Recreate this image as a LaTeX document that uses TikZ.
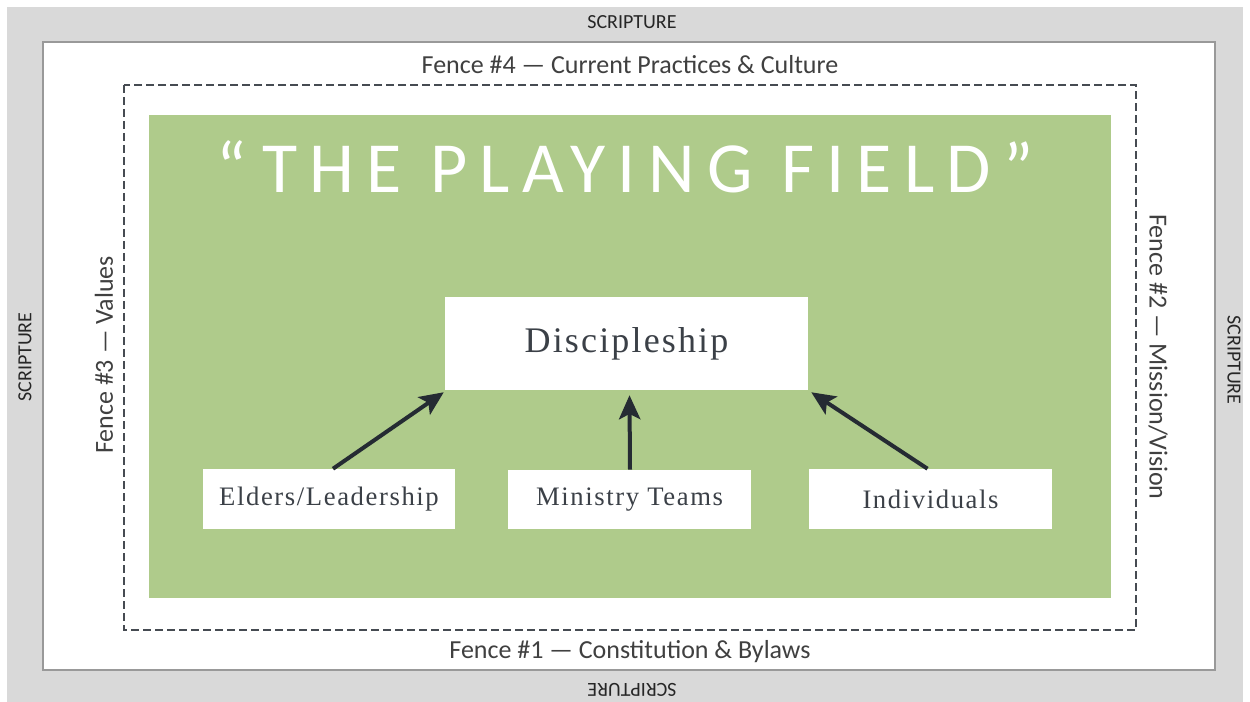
\documentclass[tikz,border=0pt]{standalone}
\usepackage{fontspec}
\setmainfont{Carlito}
\newfontfamily\titlefont[LetterSpace=17]{Carlito}
\newfontfamily\boxfont[LetterSpace=6]{Liberation Serif}
\usetikzlibrary{arrows.meta}
\definecolor{bggray}{HTML}{D9D9D9}
\definecolor{field}{HTML}{AFCB8B}
\definecolor{txt}{HTML}{404040}
\definecolor{arr}{HTML}{252B33}
\tikzset{
  lbl/.style={text=txt, inner sep=0pt, font=\fontsize{19.5}{22}\selectfont},
  scr/.style={text=black!85, inner sep=0pt, font=\fontsize{15}{17}\selectfont},
  wbox/.style={fill=white, draw=none, inner sep=0pt},
  wtext/.style={text=arr!90, font=\boxfont\fontsize{20}{22}\selectfont},
  flow/.style={draw=arr, line width=3pt, -{Stealth[length=18pt,width=16pt,inset=4pt]}}
}
\begin{document}
\begin{tikzpicture}[x=0.75pt,y=-0.75pt]
\useasboundingbox (0,0) rectangle (1250,702);
\fill[white] (0,0) rectangle (1250,702);
\fill[bggray] (7,7) rectangle (1243,702);
\draw[fill=white, draw=gray!80, line width=0.8pt] (43,42) rectangle (1215,670);
\draw[draw=arr!85, line width=2.2pt, dash pattern=on 6pt off 3pt] (124,85) rectangle (1136,630);
\fill[field] (149,115) rectangle (1111,598);

\node[scr] (sT) at (632,22) {SCRIPTURE};
\node[scr, rotate=180] (sB) at (632,690) {SCRIPTURE};
\node[scr, rotate=90] (sL) at (25,357) {SCRIPTURE};
\node[scr, rotate=-90] (sR) at (1234,360) {SCRIPTURE};

\node[lbl] (f4) at (630,65) {Fence \#4 — Current Practices \& Culture};
\node[lbl] (f1) at (630,652) {Fence \#1 — Constitution \& Bylaws};
\node[lbl, rotate=90] (f3) at (104,355) {Fence \#3 — Values};
\node[lbl, rotate=-90] (f2) at (1158,357) {Fence \#2 — Mission/Vision};

\node[text=white, inner sep=0pt, font=\titlefont\fontsize{54}{60}\selectfont] (title) at (625,167) {“THE PLAYING FIELD”};

\node[wbox, minimum width=363*0.75pt, minimum height=93*0.75pt, wtext, font=\boxfont\fontsize{27}{30}\selectfont] (d) at (626.5,343.5) {Discipleship};
\node[wbox, minimum width=252*0.75pt, minimum height=60*0.75pt, wtext] (e) at (329,499) {Elders/Leadership};
\node[wbox, minimum width=243*0.75pt, minimum height=59*0.75pt, wtext] (m) at (629.5,499.5) {Ministry Teams};
\node[wbox, minimum width=243*0.75pt, minimum height=60*0.75pt, wtext] (i) at (930.5,499) {Individuals};

\draw[flow] ([xshift=4*0.75pt]e.north) -- ([xshift=-0.75pt,yshift=-2*0.75pt]d.south west);
\draw[flow] ([xshift=0.5*0.75pt]m.north) -- ([xshift=3*0.75pt,yshift=-5*0.75pt]d.south);
\draw[flow] ([xshift=-3*0.75pt]i.north) -- ([xshift=3*0.75pt,yshift=-2*0.75pt]d.south east);
\end{tikzpicture}
\end{document}
